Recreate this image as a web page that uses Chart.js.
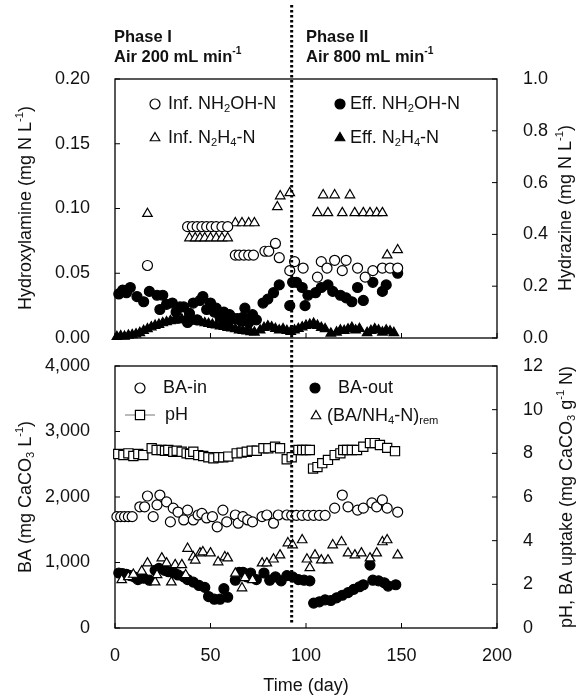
<!DOCTYPE html>
<html>
<head>
<meta charset="utf-8">
<script src="https://cdn.jsdelivr.net/npm/chart.js@4/dist/chart.umd.min.js"></script>
<style>
  body { margin: 0; background: #fff; }
  #wrap { position: relative; width: 584px; height: 696px; }
  canvas { position: absolute; left: 0; top: 0; }
</style>
</head>
<body>
<div id="wrap">
  <canvas id="topChart" width="584" height="696"></canvas>
  <canvas id="bottomChart" width="584" height="696"></canvas>
</div>
<script>
// day where aeration changed (phase I -> phase II)
var phaseDay = 92.5;

// top panel: hydroxylamine (left axis) and hydrazine (right axis)
var infNH2OHDays = [17, 38, 40.5, 43, 45.5, 48, 50.5, 53, 56, 59, 63, 65, 67.5, 70, 72.5, 78.5, 80.5, 84, 86, 91.5, 94, 98.5, 106, 108, 111, 115, 119, 121, 127, 131, 135, 140, 144, 148];
var infNH2OH = [0.056, 0.086, 0.086, 0.086, 0.086, 0.086, 0.086, 0.086, 0.086, 0.086, 0.064, 0.064, 0.064, 0.064, 0.064, 0.067, 0.067, 0.073, 0.062, 0.052, 0.059, 0.054, 0.047, 0.059, 0.054, 0.060, 0.052, 0.060, 0.054, 0.047, 0.052, 0.054, 0.054, 0.054];

var effNH2OHDays = [2, 4, 6, 8, 11.5, 15, 18, 22, 23.5, 25, 27, 30, 32, 34, 36, 38, 39, 41, 43, 44.5, 46, 48, 50, 52, 53, 55, 57, 58, 60, 62, 64, 66, 67, 68, 70, 72, 74, 77.5, 80, 83, 86, 91.5, 93, 95, 98, 99.5, 101, 105, 108, 111.5, 114, 118, 121, 124, 127, 130, 135, 140, 142, 148];
var effNH2OH = [0.034, 0.037, 0.035, 0.039, 0.032, 0.028, 0.036, 0.033, 0.022, 0.033, 0.026, 0.027, 0.020, 0.024, 0.024, 0.012, 0.019, 0.027, 0.014, 0.029, 0.032, 0.022, 0.027, 0.020, 0.023, 0.016, 0.020, 0.012, 0.018, 0.015, 0.015, 0.013, 0.016, 0.023, 0.012, 0.018, 0.014, 0.027, 0.030, 0.035, 0.041, 0.025, 0.043, 0.043, 0.039, 0.025, 0.033, 0.035, 0.039, 0.041, 0.036, 0.033, 0.031, 0.028, 0.039, 0.029, 0.043, 0.036, 0.041, 0.050];

var infN2H4Days = [17, 39, 42, 44.5, 47, 50, 53, 56, 59, 63, 66.5, 70, 73, 85, 86.5, 91.5, 106, 109, 111.5, 115, 119, 123, 125.5, 130, 133.5, 137, 140, 142.5, 148];
var infN2H4 = [0.48, 0.386, 0.386, 0.386, 0.386, 0.386, 0.386, 0.386, 0.386, 0.444, 0.444, 0.444, 0.444, 0.506, 0.548, 0.56, 0.483, 0.552, 0.483, 0.552, 0.483, 0.552, 0.483, 0.483, 0.483, 0.483, 0.483, 0.32, 0.34];

var effN2H4Days = [1, 3, 5, 7, 9, 11, 13, 15, 17, 19, 21, 23, 25, 27, 29, 31, 33, 35, 37, 39, 41, 43, 45, 47, 49, 51, 53, 55, 57, 59, 61, 63, 65, 67, 69, 71, 73, 76, 78, 80, 82, 84, 86, 88, 90, 92, 94, 96, 98, 100, 102, 104, 106, 108, 110, 113, 116, 118, 120, 122, 124, 126, 128, 132, 134, 136, 138, 140, 142, 144, 146];
var effN2H4 = [0.005, 0.008, 0.006, 0.010, 0.012, 0.015, 0.020, 0.028, 0.035, 0.042, 0.048, 0.052, 0.058, 0.062, 0.066, 0.068, 0.070, 0.072, 0.070, 0.068, 0.066, 0.064, 0.062, 0.058, 0.055, 0.052, 0.050, 0.046, 0.044, 0.040, 0.038, 0.035, 0.030, 0.028, 0.026, 0.024, 0.022, 0.030, 0.040, 0.046, 0.042, 0.036, 0.030, 0.035, 0.028, 0.025, 0.030, 0.036, 0.042, 0.048, 0.052, 0.056, 0.048, 0.040, 0.035, 0.018, 0.022, 0.030, 0.028, 0.034, 0.040, 0.030, 0.036, 0.020, 0.028, 0.035, 0.030, 0.022, 0.030, 0.026, 0.020];

// bottom panel: BA (left axis), pH and BA uptake (right axis)
var baInDays = [1, 3, 5, 7, 9, 13, 15.5, 17, 20, 22, 23.5, 27, 29, 30.5, 33, 36, 38, 41, 43.5, 45.5, 48, 51, 53.5, 56.5, 58.5, 63, 64.5, 67, 69.5, 72, 77, 79.5, 83, 85.5, 90, 92.5, 95, 98, 101, 104, 107, 110, 115, 119, 122, 127, 130, 134.5, 137, 140, 142.5, 148];
var baIn = [1700, 1700, 1700, 1700, 1700, 1850, 1850, 2015, 1700, 1880, 2030, 1925, 1620, 1830, 1770, 1650, 1800, 1650, 1725, 1750, 1680, 1700, 1545, 1800, 1620, 1725, 1600, 1700, 1650, 1620, 1700, 1725, 1600, 1725, 1725, 1720, 1720, 1720, 1720, 1720, 1720, 1720, 1830, 2030, 1850, 1800, 1830, 1910, 1850, 1955, 1830, 1770];

var baOutDays = [2, 4, 6, 8, 10, 12, 15, 18, 21, 23, 26, 28, 31, 33, 36, 38, 41, 44, 47, 49, 52, 55, 57, 59, 63, 65, 67, 69, 71, 74, 78, 81, 84, 87, 90, 93, 96, 99, 102, 104, 107, 110, 113, 116, 119, 122, 125, 128, 130, 133.5, 135, 138, 141, 143, 147];
var baOut = [840, 830, 820, 800, 780, 740, 760, 730, 880, 910, 880, 860, 840, 810, 780, 740, 700, 650, 620, 480, 440, 440, 600, 470, 730, 850, 850, 780, 840, 740, 840, 730, 780, 720, 800, 780, 740, 730, 720, 380, 400, 430, 420, 460, 500, 540, 590, 630, 660, 960, 730, 720, 690, 640, 660];

var pHDays = [1.7, 4.4, 7, 9.6, 12.2, 14.8, 19.2, 21.8, 24.4, 26.2, 27.9, 30.5, 32.3, 34.9, 37.5, 39.3, 41, 43.6, 46.2, 48.9, 51.5, 54.1, 56.7, 59.3, 63.7, 66.3, 69, 71.6, 74.2, 77.7, 80.3, 83.8, 86.4, 89.9, 92.5, 96, 98, 100, 102, 103.7, 106, 108.5, 111.5, 115, 118, 119.5, 121.5, 124, 126.7, 130, 133.5, 136, 138.7, 142.5, 146.6];
var pH = [7.97, 7.92, 8.0, 7.88, 7.97, 7.92, 8.23, 8.15, 8.15, 8.12, 8.15, 8.07, 8.12, 8.07, 8.0, 7.97, 8.07, 7.92, 7.88, 7.82, 7.77, 7.82, 7.82, 7.85, 8.0, 8.03, 8.07, 8.12, 8.12, 8.23, 8.23, 8.30, 8.23, 7.73, 7.82, 8.15, 8.15, 8.15, 8.15, 7.3, 7.37, 7.55, 7.7, 7.92, 8.0, 8.15, 8.15, 8.15, 8.15, 8.3, 8.47, 8.47, 8.38, 8.25, 8.1];

var uptakeDays = [3.5, 7, 9.6, 14, 17, 21, 22, 24.5, 27, 29.5, 31.5, 35, 37, 38, 41, 42, 44.5, 46, 50, 54, 57.5, 59, 63, 66.5, 68, 72, 77, 79.5, 83, 86.4, 90.5, 93, 98, 100.5, 102, 104.7, 108, 111.5, 114, 118.6, 122, 125.6, 129, 133.5, 137, 140, 142.5, 148];
var uptake = [2.2, 2.34, 2.45, 2.6, 2.97, 2.1, 2.43, 3.2, 2.97, 2.1, 2.89, 2.89, 2.43, 3.64, 3.25, 3.1, 3.43, 3.48, 3.43, 3.02, 3.25, 3.2, 2.5, 1.83, 2.3, 2.2, 2.97, 2.97, 3.15, 3.34, 3.89, 3.8, 4.03, 3.15, 2.75, 3.34, 3.11, 3.11, 3.8, 3.94, 3.43, 3.34, 3.43, 3.2, 3.43, 3.94, 4.03, 3.34];

var FONT = '"Liberation Sans", Arial, Helvetica, sans-serif';
var INK = '#111';

function pts(days, vals) {
  return days.map(function(d, i) { return { x: d, y: vals[i] }; });
}

function series(days, vals, axis, style, filled, r) {
  return {
    data: pts(days, vals),
    yAxisID: axis,
    showLine: false,
    clip: false,
    pointStyle: style,
    pointRadius: r,
    pointBorderWidth: 1.2,
    pointBorderColor: '#000',
    pointBackgroundColor: filled ? '#000' : '#fff'
  };
}

function setFont(ctx, size, bold) {
  ctx.font = (bold ? 'bold ' : '') + size + 'px ' + FONT;
}

// text with sub/superscript pieces: [[text, ''|'sub'|'sup'], ...]
function drawRich(ctx, parts, x, y, size, bold, align, angle) {
  ctx.save();
  ctx.translate(x, y);
  if (angle) ctx.rotate(angle);
  var w = 0;
  parts.forEach(function(p) {
    setFont(ctx, p[1] ? size * 0.62 : size, bold);
    w += ctx.measureText(p[0]).width;
  });
  var cx = align === 'center' ? -w / 2 : 0;
  ctx.textBaseline = 'middle';
  ctx.textAlign = 'left';
  ctx.fillStyle = INK;
  parts.forEach(function(p) {
    setFont(ctx, p[1] ? size * 0.62 : size, bold);
    var dy = p[1] === 'sub' ? size * 0.28 : (p[1] === 'sup' ? -size * 0.36 : 0);
    ctx.fillText(p[0], cx, dy);
    cx += ctx.measureText(p[0]).width;
  });
  ctx.restore();
}

function marker(ctx, style, x, y, r, filled) {
  ctx.beginPath();
  if (style === 'circle') {
    ctx.arc(x, y, r, 0, Math.PI * 2);
  } else if (style === 'triangle') {
    ctx.moveTo(x, y - r);
    ctx.lineTo(x + r * 0.866, y + r * 0.5);
    ctx.lineTo(x - r * 0.866, y + r * 0.5);
    ctx.closePath();
  } else {
    var s = r * Math.SQRT1_2;
    ctx.rect(x - s, y - s, 2 * s, 2 * s);
  }
  ctx.fillStyle = filled ? '#000' : '#fff';
  ctx.fill();
  ctx.lineWidth = 1.2;
  ctx.strokeStyle = '#000';
  ctx.stroke();
}

function thousands(v) {
  return String(v).replace(/\B(?=(\d{3})+(?!\d))/g, ',');
}

// box around the plot and small inward tick marks
var frame = {
  id: 'frame',
  beforeDatasetsDraw: function(chart) {
    var ctx = chart.ctx, a = chart.chartArea;
    ctx.save();
    ctx.strokeStyle = '#000';
    ctx.lineWidth = 1.3;
    ctx.strokeRect(a.left, a.top, a.right - a.left, a.bottom - a.top);
    ctx.lineWidth = 1;
    Object.keys(chart.scales).forEach(function(id) {
      var s = chart.scales[id];
      s.ticks.forEach(function(t) {
        var p = s.getPixelForValue(t.value);
        ctx.beginPath();
        if (s.axis === 'x') { ctx.moveTo(p, a.bottom); ctx.lineTo(p, a.bottom - 5); }
        else if (s.position === 'left') { ctx.moveTo(a.left, p); ctx.lineTo(a.left + 5, p); }
        else { ctx.moveTo(a.right, p); ctx.lineTo(a.right - 5, p); }
        ctx.stroke();
      });
    });
    ctx.restore();
  }
};

var decor = {
  id: 'decor',
  afterDraw: function(chart, args, opts) {
    var ctx = chart.ctx;
    (opts.legend || []).forEach(function(it) {
      if (it.line) {
        ctx.save();
        ctx.strokeStyle = '#777';
        ctx.lineWidth = 1;
        ctx.beginPath();
        ctx.moveTo(it.x - 15, it.y);
        ctx.lineTo(it.x + 15, it.y);
        ctx.stroke();
        ctx.restore();
      }
      marker(ctx, it.style, it.x, it.y, it.r, it.filled);
      drawRich(ctx, it.parts, it.tx, it.y, 18, false, 'left', 0);
    });
    (opts.texts || []).forEach(function(t) {
      drawRich(ctx, t.parts, t.x, t.y, t.size || 18, t.bold, t.align || 'center', t.angle || 0);
    });
    if (opts.dotted) {
      var x = chart.scales.x.getPixelForValue(phaseDay);
      ctx.save();
      ctx.strokeStyle = '#000';
      ctx.lineWidth = 3;
      ctx.setLineDash([2.5, 2.5]);
      ctx.beginPath();
      ctx.moveTo(x, 5);
      ctx.lineTo(x, 623);
      ctx.stroke();
      ctx.restore();
    }
  }
};

function yScale(pos, min, max, step, width, fmt) {
  return {
    type: 'linear', position: pos, min: min, max: max,
    grid: { display: false, drawTicks: false },
    border: { display: false },
    ticks: {
      stepSize: step, padding: pos === 'left' ? 25 : 26, color: INK,
      font: { family: FONT, size: 18 },
      callback: fmt
    },
    afterFit: function(s) { s.width = width; }
  };
}

function xScale(showTicks, height) {
  return {
    type: 'linear', min: 0, max: 200,
    grid: { display: false, drawTicks: false },
    border: { display: false },
    ticks: { display: showTicks, stepSize: 50, padding: 17, color: INK, maxRotation: 0, font: { family: FONT, size: 18 } },
    afterFit: function(s) { s.height = height; }
  };
}

var common = {
  responsive: false,
  animation: false,
  events: []
};

var topChart = new Chart(document.getElementById('topChart').getContext('2d'), {
  type: 'scatter',
  data: {
    datasets: [
      series(infNH2OHDays, infNH2OH, 'y', 'circle', false, 5),
      series(infN2H4Days, infN2H4, 'y2', 'triangle', false, 5.5),
      series(effNH2OHDays, effNH2OH, 'y', 'circle', true, 5),
      series(effN2H4Days, effN2H4, 'y2', 'triangle', true, 5.5)
    ]
  },
  options: Object.assign({}, common, {
    layout: { padding: { top: 79, left: 0, right: 0, bottom: 0 } },
    plugins: {
      legend: { display: false },
      tooltip: { enabled: false },
      decor: {
        legend: [
          { style: 'circle', filled: false, r: 5, x: 155, y: 104, tx: 168, parts: [['Inf. NH', ''], ['2', 'sub'], ['OH-N', '']] },
          { style: 'triangle', filled: false, r: 5.5, x: 155, y: 138, tx: 168, parts: [['Inf. N', ''], ['2', 'sub'], ['H', ''], ['4', 'sub'], ['-N', '']] },
          { style: 'circle', filled: true, r: 5, x: 340, y: 104, tx: 350, parts: [['Eff. NH', ''], ['2', 'sub'], ['OH-N', '']] },
          { style: 'triangle', filled: true, r: 5.5, x: 340, y: 138, tx: 350, parts: [['Eff. N', ''], ['2', 'sub'], ['H', ''], ['4', 'sub'], ['-N', '']] }
        ],
        texts: [
          { parts: [['Phase I', '']], x: 114, y: 37, size: 16.5, bold: true, align: 'left' },
          { parts: [['Air 200 mL min', ''], ['-1', 'sup']], x: 114, y: 57, size: 16.5, bold: true, align: 'left' },
          { parts: [['Phase II', '']], x: 306, y: 37, size: 16.5, bold: true, align: 'left' },
          { parts: [['Air 800 mL min', ''], ['-1', 'sup']], x: 306, y: 57, size: 16.5, bold: true, align: 'left' },
          { parts: [['Hydroxylamine (mg N L', ''], ['-1', 'sup'], [')', '']], x: 26, y: 208, angle: -Math.PI / 2 },
          { parts: [['Hydrazine (mg N L', ''], ['-1', 'sup'], [')', '']], x: 566, y: 208, angle: -Math.PI / 2 }
        ]
      }
    },
    scales: {
      x: xScale(false, 696 - 338),
      y: yScale('left', 0, 0.2, 0.05, 115, function(v) { return v.toFixed(2); }),
      y2: yScale('right', 0, 1, 0.2, 87, function(v) { return v.toFixed(1); })
    }
  }),
  plugins: [frame, decor]
});

var bottomChart = new Chart(document.getElementById('bottomChart').getContext('2d'), {
  type: 'scatter',
  data: {
    datasets: [
      series(baInDays, baIn, 'y', 'circle', false, 5),
      series(pHDays, pH, 'y2', 'rect', false, 6.5),
      series(uptakeDays, uptake, 'y2', 'triangle', false, 5.5),
      series(baOutDays, baOut, 'y', 'circle', true, 5)
    ]
  },
  options: Object.assign({}, common, {
    layout: { padding: { top: 366, left: 0, right: 0, bottom: 0 } },
    plugins: {
      legend: { display: false },
      tooltip: { enabled: false },
      decor: {
        dotted: true,
        legend: [
          { style: 'circle', filled: false, r: 5, x: 140, y: 388, tx: 163, parts: [['BA-in', '']] },
          { style: 'rect', filled: false, r: 6.5, x: 140, y: 415, tx: 165, line: true, parts: [['pH', '']] },
          { style: 'circle', filled: true, r: 5, x: 315, y: 388, tx: 338, parts: [['BA-out', '']] },
          { style: 'triangle', filled: false, r: 5.5, x: 316, y: 416, tx: 327, parts: [['(BA/NH', ''], ['4', 'sub'], ['-N)', ''], ['rem', 'sub']] }
        ],
        texts: [
          { parts: [['BA (mg CaCO', ''], ['3', 'sub'], [' L', ''], ['-1', 'sup'], [')', '']], x: 26, y: 497, angle: -Math.PI / 2 },
          { parts: [['pH, BA uptake (mg CaCO', ''], ['3', 'sub'], [' g', ''], ['-1', 'sup'], [' N)', '']], x: 567, y: 497, angle: -Math.PI / 2 },
          { parts: [['Time (day)', '']], x: 306, y: 686 }
        ]
      }
    },
    scales: {
      x: xScale(true, 696 - 628),
      y: yScale('left', 0, 4000, 1000, 115, thousands),
      y2: yScale('right', 0, 12, 2, 87)
    }
  }),
  plugins: [frame, decor]
});
</script>
</body>
</html>
